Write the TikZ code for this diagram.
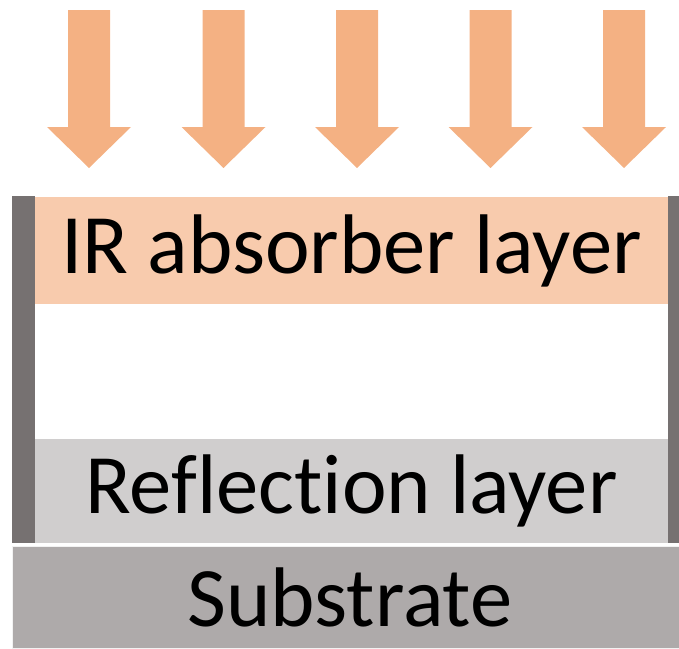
\documentclass[tikz,border=0pt]{standalone}
\usepackage{fontspec}
\setmainfont{Carlito}[Ligatures=NoCommon]
\usepackage{tikz}
\usetikzlibrary{positioning}
\usepackage{xcolor}
\definecolor{rayorange}{RGB}{244, 177, 131}
\definecolor{absorbfill}{RGB}{248, 203, 173}
\definecolor{reflfill}{RGB}{208, 206, 206}
\definecolor{subfill}{RGB}{174, 170, 170}
\definecolor{postgray}{RGB}{118, 113, 113}

\begin{document}
\begin{tikzpicture}[
  x=0.5pt, y=-0.5pt,
  layer/.style={rectangle, fill=#1, inner sep=0pt, outer sep=0pt,
                minimum width=316.5pt, minimum height=52pt, align=center,
                font=\fontsize{42.3}{44}\selectfont},
  post/.style={rectangle, fill=postgray, inner sep=0pt, outer sep=0pt,
               minimum height=173.5pt}
]
\useasboundingbox (0,0) rectangle (679,648);
% Incoming rays
\foreach \c in {89, 223.5, 357, 490.5, 624} {
  \fill[rayorange] (\c-21,10) -- (\c+21,10) -- (\c+21,127) -- (\c+42,127)
    -- (\c,168) -- (\c-42,127) -- (\c-21,127) -- cycle;
}
% Stack
\node[layer=absorbfill, minimum height=53.5pt] (absorber) at (351.5,250.5) {IR absorber layer};
\node[layer=reflfill] (reflection) at (351.5,491) {Reflection layer};
\node[layer=subfill, minimum width=333.5pt, minimum height=51pt,
      draw=white!90!gray, line width=0.5pt] (substrate) at (345.5,597) {};
\node[font=\fontsize{42.3}{44}\selectfont] (sublabel) at (350,597) {Substrate};
% Side walls
\node[post, minimum width=11.5pt] (leftwall)  at (23.5,369.5) {};
\node[post, minimum width=5.5pt]  (rightwall) at (673.5,369.5) {};
\end{tikzpicture}
\end{document}
